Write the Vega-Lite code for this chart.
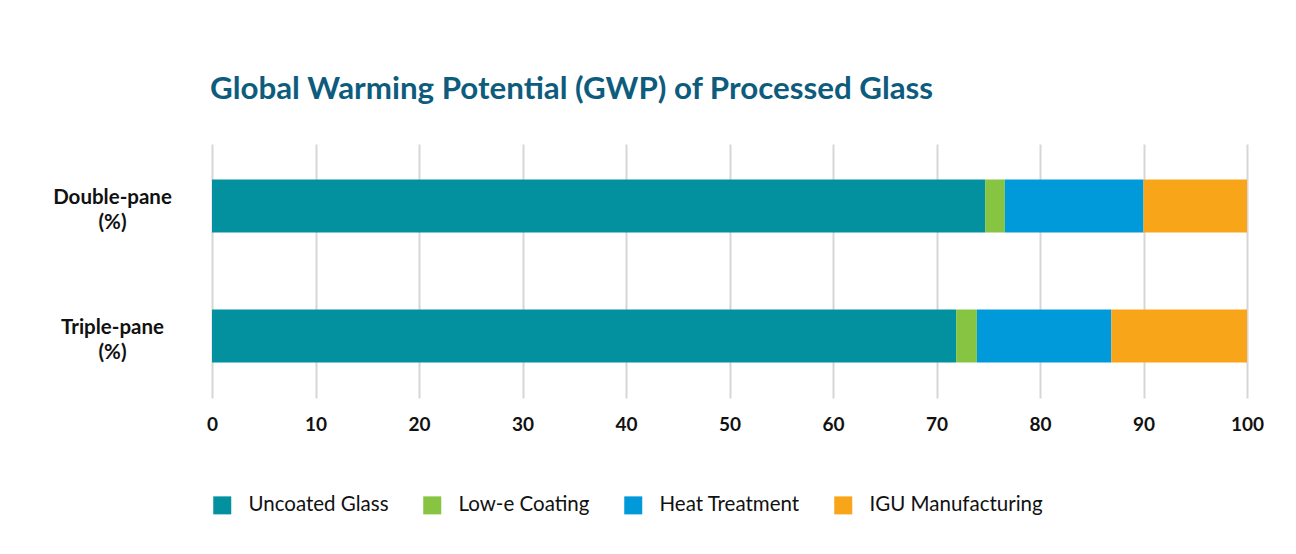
{
  "$schema": "https://vega.github.io/schema/vega-lite/v6.json",
  "autosize": "none",
  "width": 1035,
  "height": 254,
  "padding": {"left": 212, "top": 144, "right": 49, "bottom": 156},
  "background": "#ffffff",
  "title": {
    "text": "Global Warming Potential (GWP) of Processed Glass",
    "anchor": "start",
    "frame": "group",
    "font": "Lato",
    "fontSize": 31.3,
    "fontWeight": "bold",
    "color": "#0E5C7D",
    "baseline": "alphabetic",
    "offset": 14,
    "dx": -2
  },
  "data": {
    "values": [
      {"pane": "Double-pane (%)", "component": "Uncoated Glass", "value": 74.7, "ord": 1},
      {"pane": "Double-pane (%)", "component": "Low-e Coating", "value": 1.9, "ord": 2},
      {"pane": "Double-pane (%)", "component": "Heat Treatment", "value": 13.4, "ord": 3},
      {"pane": "Double-pane (%)", "component": "IGU Manufacturing", "value": 10.0, "ord": 4},
      {"pane": "Triple-pane (%)", "component": "Uncoated Glass", "value": 71.9, "ord": 1},
      {"pane": "Triple-pane (%)", "component": "Low-e Coating", "value": 2.0, "ord": 2},
      {"pane": "Triple-pane (%)", "component": "Heat Treatment", "value": 13.0, "ord": 3},
      {"pane": "Triple-pane (%)", "component": "IGU Manufacturing", "value": 13.1, "ord": 4}
    ]
  },
  "mark": {"type": "bar"},
  "encoding": {
    "y": {
      "field": "pane",
      "type": "nominal",
      "sort": ["Double-pane (%)", "Triple-pane (%)"],
      "scale": {"paddingInner": 0.592, "paddingOuter": 0.273},
      "axis": {
        "title": null,
        "ticks": false,
        "domain": false,
        "grid": false,
        "labelAlign": "center",
        "labelPadding": 100,
        "labelFont": "Lato",
        "labelFontSize": 20.5,
        "labelFontWeight": "bold",
        "labelColor": "#111111",
        "labelLineHeight": 25,
        "labelOffset": -8,
        "labelExpr": "split(datum.value, ' ')"
      }
    },
    "x": {
      "field": "value",
      "type": "quantitative",
      "stack": "zero",
      "scale": {"domain": [0, 100], "nice": false},
      "axis": {
        "title": null,
        "values": [0, 10, 20, 30, 40, 50, 60, 70, 80, 90, 100],
        "ticks": false,
        "domain": false,
        "grid": true,
        "gridColor": "#d6d6d6",
        "gridWidth": 2,
        "labelFont": "Lato",
        "labelFontSize": 19,
        "labelFontWeight": "bold",
        "labelColor": "#111111",
        "labelPadding": 17,
        "labelFlush": false
      }
    },
    "color": {
      "field": "component",
      "type": "nominal",
      "scale": {
        "domain": ["Uncoated Glass", "Low-e Coating", "Heat Treatment", "IGU Manufacturing"],
        "range": ["#03909F", "#86C442", "#009ADA", "#F9A51A"]
      },
      "legend": {
        "title": null,
        "orient": "bottom",
        "direction": "horizontal",
        "columns": 4,
        "symbolType": "square",
        "symbolSize": 324,
        "symbolStrokeWidth": 0,
        "symbolOpacity": 1,
        "labelFont": "Lato",
        "labelFontSize": 20.5,
        "labelColor": "#111111",
        "labelOffset": 16,
        "columnPadding": 33,
        "offset": 61,
        "labelLimit": 400
      }
    },
    "order": {"field": "ord", "type": "quantitative"}
  },
  "config": {
    "view": {"stroke": null}
  }
}
